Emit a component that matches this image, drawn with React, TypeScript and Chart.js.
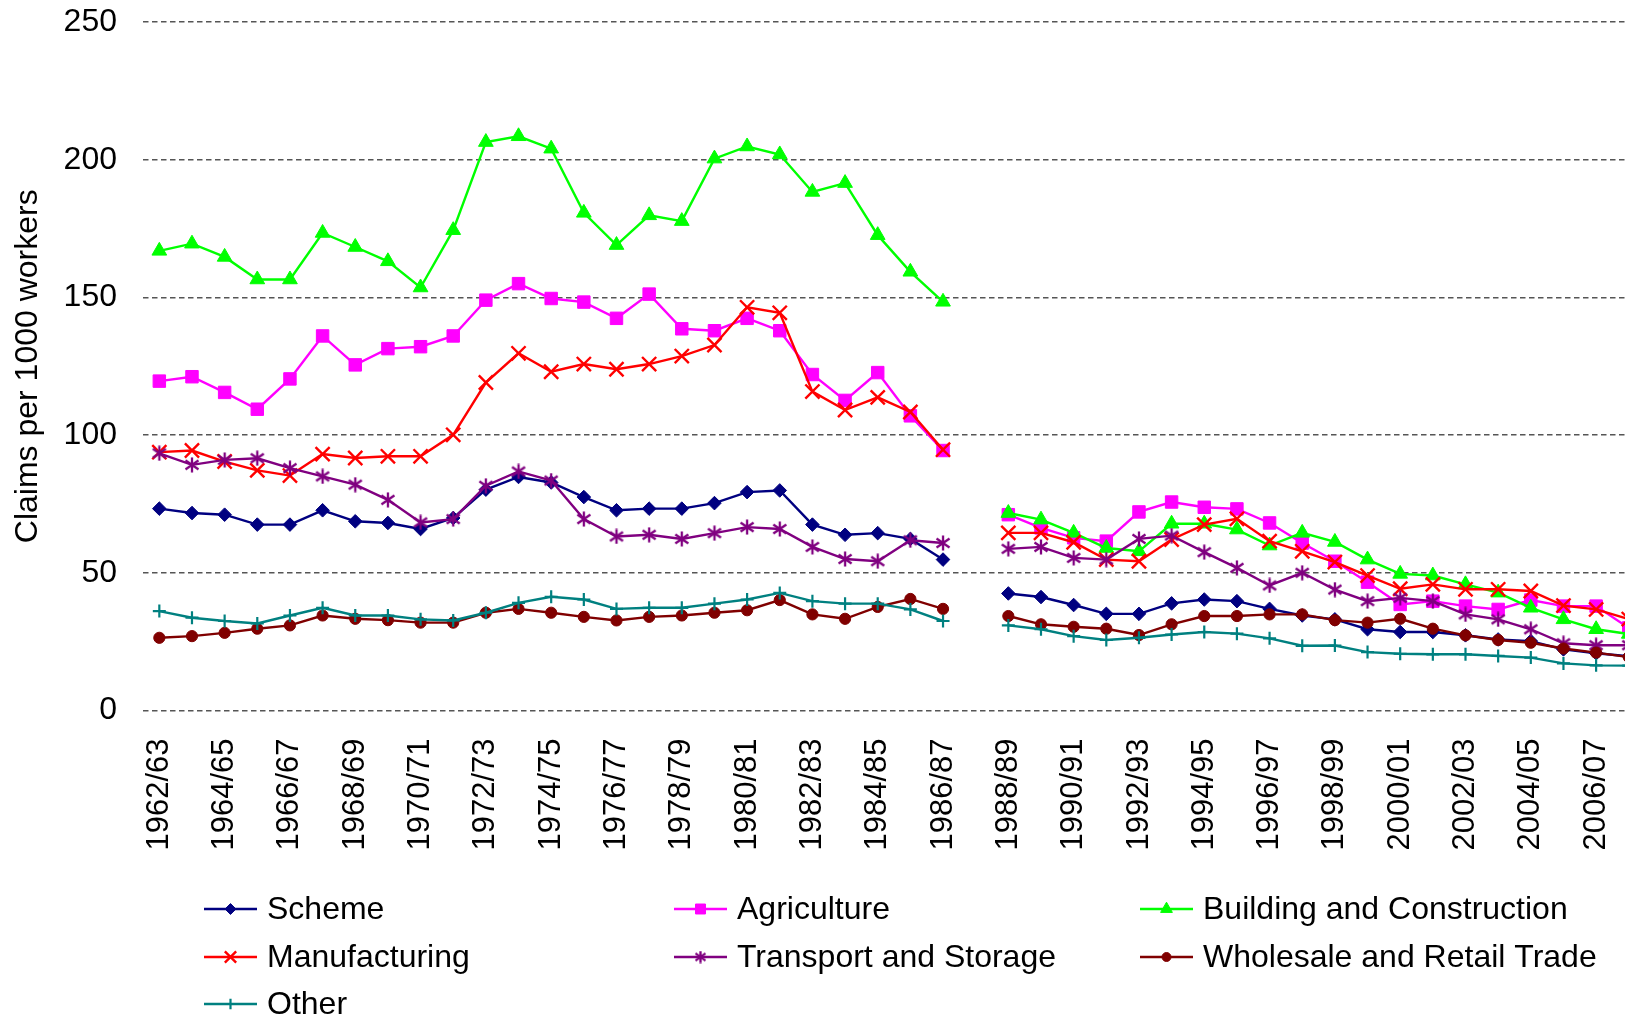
import React, { useEffect, useRef } from 'react';
import { Chart, registerables } from 'chart.js';
import { drawPoint } from 'chart.js/helpers';

Chart.register(...registerables);

const categories = [
  '1962/63', '1963/64', '1964/65', '1965/66', '1966/67', '1967/68', '1968/69', '1969/70',
  '1970/71', '1971/72', '1972/73', '1973/74', '1974/75', '1975/76', '1976/77', '1977/78',
  '1978/79', '1979/80', '1980/81', '1981/82', '1982/83', '1983/84', '1984/85', '1985/86',
  '1986/87', '1987/88', '1988/89', '1989/90', '1990/91', '1991/92', '1992/93', '1993/94',
  '1994/95', '1995/96', '1996/97', '1997/98', '1998/99', '1999/00', '2000/01', '2001/02',
  '2002/03', '2003/04', '2004/05', '2005/06', '2006/07', '2007/08',
];

const scheme = [
  73.3, 71.7, 71.1, 67.5, 67.5, 72.7, 68.7, 68.1, 65.9, 69.9, 80.2, 84.8, 82.8, 77.5, 72.7, 73.3,
  73.3, 75.3, 79.3, 79.9, 67.5, 63.8, 64.4, 62.3, 54.8, null,
  42.5, 41.2, 38.3, 35.1, 35.1, 38.9, 40.3, 39.7, 36.9, 34.5, 33.1, 29.5, 28.5, 28.5, 27.3, 25.8,
  25.2, 22.2, 20.8, 19.7,
];

const agriculture = [
  119.6, 121.2, 115.5, 109.4, 120.4, 136.0, 125.5, 131.4, 132.1, 136.0, 149.0, 155.0, 149.6, 148.3,
  142.4, 151.2, 138.6, 137.9, 142.4, 137.9, 122.0, 112.6, 122.7, 107.0, 94.4, null,
  71.1, 66.3, 62.7, 61.5, 72.1, 75.7, 73.8, 73.2, 68.1, 60.8, 54.2, 46.6, 38.5, 39.7, 37.9, 36.7,
  40.1, 37.9, 37.9, 30.0,
];

const building = [
  166.9, 169.5, 164.7, 156.5, 156.5, 173.4, 168.3, 163.1, 153.6, 174.4, 206.4, 208.5, 204.0, 180.7,
  169.0, 179.8, 177.7, 200.4, 204.8, 201.9, 188.3, 191.5, 172.6, 159.3, 148.4, null,
  71.7, 69.3, 64.5, 59.0, 57.8, 67.8, 67.8, 65.7, 59.9, 64.5, 61.2, 54.8, 49.6, 49.0, 45.8, 42.8,
  37.3, 33.1, 29.5, 27.8,
];

const manufacturing = [
  93.8, 94.4, 90.4, 87.2, 85.3, 93.1, 91.7, 92.3, 92.3, 100.1, 119.1, 129.7, 123.0, 125.8, 123.9,
  125.8, 128.7, 132.7, 146.4, 144.4, 115.8, 109.1, 113.7, 108.4, 94.7, null,
  64.5, 64.5, 61.1, 54.8, 54.2, 62.1, 67.5, 69.6, 61.5, 57.8, 53.9, 49.0, 44.2, 45.8, 44.0, 44.0,
  43.4, 38.1, 36.7, 33.2,
];

const transport = [
  93.4, 89.2, 91.0, 91.6, 88.0, 85.0, 82.0, 76.5, 68.3, 69.5, 81.6, 86.8, 83.5, 69.5, 63.2, 63.8,
  62.3, 64.4, 66.6, 65.9, 59.4, 55.0, 54.2, 61.8, 60.8, null,
  58.7, 59.4, 55.4, 54.8, 62.3, 63.5, 57.5, 51.8, 45.4, 50.0, 43.9, 39.7, 40.9, 39.7, 34.9, 33.1,
  29.5, 24.4, 23.7, 23.7,
];

const wholesale = [
  26.4, 27.0, 28.2, 29.7, 30.9, 34.5, 33.3, 32.8, 31.9, 31.9, 35.5, 36.9, 35.5, 34.0, 32.7, 34.0,
  34.5, 35.5, 36.4, 40.1, 34.9, 33.3, 37.6, 40.5, 36.9, null,
  34.3, 31.3, 30.4, 29.7, 27.4, 31.3, 34.3, 34.3, 34.9, 34.9, 32.8, 31.9, 33.3, 29.7, 27.3, 25.6,
  24.6, 22.5, 21.0, 19.4,
];

const other = [
  36.1, 33.7, 32.5, 31.6, 34.5, 37.3, 34.5, 34.5, 33.1, 32.7, 35.5, 39.1, 41.3, 40.3, 36.9, 37.3,
  37.3, 38.8, 40.3, 42.7, 39.7, 38.8, 38.8, 36.7, 32.5, null,
  30.9, 29.5, 27.0, 25.6, 26.4, 27.6, 28.5, 27.9, 26.2, 23.5, 23.6, 21.2, 20.6, 20.4, 20.4, 19.8,
  19.2, 17.1, 16.4, 16.3,
];

const seriesLabels = [
  'Scheme', 'Agriculture', 'Building and Construction',
  'Manufacturing', 'Transport and Storage', 'Wholesale and Retail Trade', 'Other',
];
const seriesData = [scheme, agriculture, building, manufacturing, transport, wholesale, other];
const seriesColors = ['#000080', '#FF00FF', '#00FF00', '#FF0000', '#800080', '#800000', '#008080'];
const seriesPointStyles = ['rectRot', 'rect', 'triangle', 'crossRot', 'asterisk', 'circle', 'cross'];
const seriesPointRadius = [6.8, 8.8, 8.5, 10, 8, 5.6, 6.5];
const seriesPointBorder = [1, 1, 1, 2.4, 2, 1, 2.2];

const yTicks = [0, 50, 100, 150, 200, 250];

const FONT = '"Liberation Sans", Arial, Helvetica, sans-serif';

function makeAsterisk(color: string, size: number) {
  const c = document.createElement('canvas');
  c.width = size;
  c.height = size;
  const g = c.getContext('2d')!;
  const m = size / 2;
  g.strokeStyle = color;
  g.lineWidth = 2.3;
  g.lineCap = 'butt';
  g.beginPath();
  g.moveTo(m, 0.5);
  g.lineTo(m, size - 0.5);
  g.moveTo(1.5, size * 0.22);
  g.lineTo(size - 1.5, size * 0.78);
  g.moveTo(1.5, size * 0.78);
  g.lineTo(size - 1.5, size * 0.22);
  g.stroke();
  return c;
}

const legendPlugin = {
  id: 'customLegend',
  afterDraw(chart: any) {
    const ctx = chart.ctx;
    const cols = [204, 674, 1140];
    const rows = [909, 957, 1004];
    chart.data.datasets.forEach((ds: any, i: number) => {
      const x = cols[i % 3];
      const y = rows[Math.floor(i / 3)];
      ctx.save();
      ctx.strokeStyle = ds.borderColor;
      ctx.lineWidth = 2.4;
      ctx.beginPath();
      ctx.moveTo(x, y);
      ctx.lineTo(x + 53, y);
      ctx.stroke();
      ctx.fillStyle = ds.pointBackgroundColor;
      ctx.strokeStyle = ds.pointBorderColor;
      ctx.lineWidth = ds.pointBorderWidth;
      const style = ds.legendPointStyle || ds.pointStyle;
      drawPoint(
        ctx,
        { pointStyle: style, radius: ds.pointRadius * 0.8, rotation: 0, borderWidth: ds.pointBorderWidth },
        x + 26.5,
        y
      );
      ctx.fillStyle = '#000';
      ctx.font = `32px ${FONT}`;
      ctx.textAlign = 'left';
      ctx.textBaseline = 'middle';
      ctx.fillText(ds.label, x + 63, y + 1);
      ctx.restore();
    });
  },
};

export default function App() {
  const ref = useRef<HTMLCanvasElement | null>(null);

  useEffect(() => {
    if (!ref.current) return;
    const resolveStyle = (s: string, color: string, size: number) =>
      s === 'asterisk' ? makeAsterisk(color, size) : s;
    const chart = new Chart(ref.current, {
      type: 'line',
      data: {
        labels: categories,
        datasets: seriesData.map((d, i) => ({
          label: seriesLabels[i],
          data: d,
          borderColor: seriesColors[i],
          backgroundColor: seriesColors[i],
          pointBackgroundColor: seriesColors[i],
          pointBorderColor: seriesColors[i],
          pointStyle: resolveStyle(seriesPointStyles[i], seriesColors[i], 16),
          legendPointStyle: resolveStyle(seriesPointStyles[i], seriesColors[i], 13),
          pointRadius: seriesPointRadius[i],
          pointBorderWidth: seriesPointBorder[i],
          borderWidth: 2.4,
          tension: 0,
          spanGaps: false,
          fill: false,
          clip: false,
          order: seriesData.length - 1 - i,
        })) as any,
      },
      options: {
        responsive: false,
        animation: false,
        devicePixelRatio: 1,
        layout: { autoPadding: false, padding: { top: 22, right: 3, bottom: 0, left: 0 } },
        plugins: {
          legend: { display: false },
          tooltip: { enabled: false },
        },
        scales: {
          x: {
            type: 'category',
            offset: true,
            grid: { display: false, drawTicks: false },
            border: { display: false },
            afterFit: (scale: any) => {
              scale.height = 307.5;
            },
            ticks: {
              autoSkip: false,
              maxRotation: 90,
              minRotation: 90,
              padding: 28,
              color: '#000',
              font: { family: FONT, size: 31 },
              callback: (_v: any, idx: number) => (idx % 2 === 0 ? categories[idx] : ''),
            },
          },
          y: {
            min: 0,
            max: 250,
            afterFit: (scale: any) => {
              scale.width = 143;
              scale.paddingTop = 0;
              scale.paddingBottom = 0;
            },
            afterBuildTicks: (scale: any) => {
              scale.ticks = yTicks.map((v) => ({ value: v }));
            },
            grid: { color: '#555555', lineWidth: 1.6, drawTicks: false },
            border: { display: false, dash: [5.5, 3.5] },
            ticks: {
              padding: 26,
              color: '#000',
              font: { family: FONT, size: 32 },
            },
            title: {
              display: true,
              text: 'Claims per 1000 workers',
              color: '#000',
              font: { family: FONT, size: 32 },
              padding: { top: 9, bottom: 0 },
            },
          },
        },
      },
      plugins: [legendPlugin],
    });
    return () => chart.destroy();
  }, []);

  return (
    <div
      style={{
        position: 'fixed',
        left: 0,
        top: 0,
        width: 1625,
        height: 1018,
        overflow: 'hidden',
        background: '#fff',
      }}
    >
      <canvas ref={ref} width={1694} height={1018} style={{ display: 'block', width: 1694, height: 1018 }} />
    </div>
  );
}
